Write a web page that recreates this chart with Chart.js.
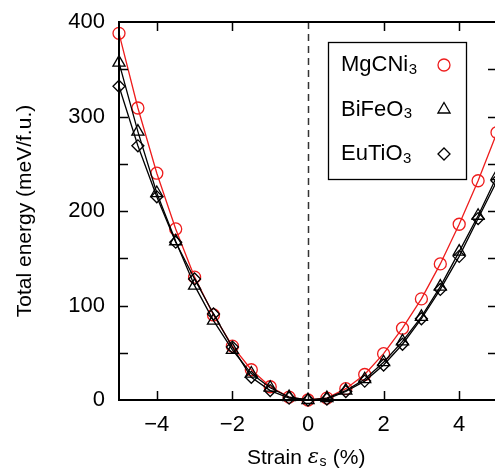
<!DOCTYPE html>
<html>
<head>
<meta charset="utf-8">
<script src="https://cdn.jsdelivr.net/npm/chart.js@4/dist/chart.umd.min.js"></script>
<style>
  html, body { margin: 0; padding: 0; overflow: hidden; background: #fff; }
</style>
</head>
<body>
<canvas id="energyChart" width="500" height="470"></canvas>
<script>
// strain values (%)
const strain = [-5, -4.5, -4, -3.5, -3, -2.5, -2, -1.5, -1, -0.5, 0, 0.5, 1, 1.5, 2, 2.5, 3, 3.5, 4, 4.5, 5];
// total energy (meV/f.u.)
const mgcni3 = [388, 309, 240, 181, 130, 90, 57, 32, 14, 3, 0, 2, 12, 27, 49, 76, 107, 144, 186, 232, 283];
const bifeo3 = [357, 284, 219, 168, 121, 84, 53, 28, 13, 3, 0, 2, 10, 22, 40, 62, 88, 120, 157, 195, 237];
const eutio3 = [332, 269, 215, 167, 128, 91, 56, 24, 10, 2, 0, 1, 9, 20, 37, 59, 86, 117, 152, 192, 232];
const xTicks = [-4, -2, 0, 2, 4];
const yTicks = [0, 100, 200, 300, 400];
const yMinor = [50, 150, 250, 350];

const RED = '#ee1c1c';
const FONT = '"Liberation Sans", Arial, sans-serif';

function pts(ys) {
    return strain.map((x, i) => ({ x: x, y: ys[i] }));
}

// text with a subscript part
function drawSub(ctx, main, sub, x, y, size) {
    ctx.font = size + 'px ' + FONT;
    ctx.fillText(main, x, y);
    const w = ctx.measureText(main).width;
    ctx.font = Math.round(size * 0.68) + 'px ' + FONT;
    ctx.fillText(sub, x + w + 0.5, y + size * 0.2);
}

const frame = {
    id: 'frame',
    beforeDatasetsDraw(chart) {
        const ctx = chart.ctx, a = chart.chartArea;
        const xs = chart.scales.x;
        ctx.save();
        ctx.strokeStyle = '#333';
        ctx.lineWidth = 1.5;
        ctx.setLineDash([7, 5]);
        const x0 = Math.round(xs.getPixelForValue(0)) + 0.5;
        ctx.beginPath();
        ctx.moveTo(x0, a.top);
        ctx.lineTo(x0, a.bottom);
        ctx.stroke();
        ctx.restore();
    },
    afterDraw(chart) {
        const ctx = chart.ctx, a = chart.chartArea;
        const xs = chart.scales.x, ys = chart.scales.y;
        ctx.save();
        ctx.strokeStyle = '#000';
        ctx.lineWidth = 2;
        ctx.strokeRect(a.left, a.top, a.right - a.left, a.bottom - a.top);

        // inward ticks
        ctx.lineWidth = 1.5;
        const tl = 9;
        ctx.beginPath();
        xTicks.forEach(v => {
            if (v === 0) return;
            const px = Math.round(xs.getPixelForValue(v)) + 0.5;
            ctx.moveTo(px, a.bottom); ctx.lineTo(px, a.bottom - tl);
            ctx.moveTo(px, a.top); ctx.lineTo(px, a.top + tl);
        });
        yTicks.concat(yMinor).forEach(v => {
            if (v === 0 || v === 400) return;
            const py = Math.round(ys.getPixelForValue(v)) + 0.5;
            ctx.moveTo(a.left, py); ctx.lineTo(a.left + tl, py);
            ctx.moveTo(a.right, py); ctx.lineTo(a.right - tl, py);
        });
        ctx.stroke();

        // axis titles
        ctx.fillStyle = '#000';
        ctx.textBaseline = 'middle';
        ctx.textAlign = 'center';
        ctx.font = '21px ' + FONT;
        ctx.save();
        ctx.translate(25, 211);
        ctx.rotate(-Math.PI / 2);
        ctx.fillText('Total energy (meV/f.u.)', 0, 0);
        ctx.restore();

        ctx.textAlign = 'left';
        let tx = 247;
        const ty = 458;
        ctx.font = '21px ' + FONT;
        ctx.fillText('Strain ', tx, ty);
        tx += ctx.measureText('Strain ').width;
        ctx.font = 'italic 21px "DejaVu Serif", serif';
        ctx.fillText('ε', tx, ty);
        tx += ctx.measureText('ε').width;
        ctx.font = '14px ' + FONT;
        ctx.fillText('s', tx + 0.5, ty + 4);
        tx += ctx.measureText('s').width + 1;
        ctx.font = '21px ' + FONT;
        ctx.fillText(' (%)', tx, ty);

        // legend box
        ctx.lineWidth = 1.3;
        ctx.strokeRect(328.5, 42.5, 138, 137);
        const rows = [
            ['MgCNi', RED, 'circle', 6],
            ['BiFeO', '#000', 'triangle', 7],
            ['EuTiO', '#000', 'rectRot', 6]
        ];
        rows.forEach((r, i) => {
            const cy = 65 + i * 44.5;
            ctx.fillStyle = '#000';
            ctx.textAlign = 'left';
            ctx.textBaseline = 'middle';
            drawSub(ctx, r[0], '3', 341, cy, 22);
            ctx.strokeStyle = r[1];
            ctx.fillStyle = 'rgba(0,0,0,0)';
            ctx.lineWidth = 1.3;
            Chart.helpers.drawPoint(ctx, { pointStyle: r[2], radius: r[3], rotation: 0, borderWidth: 1.3 }, 444, cy);
        });
        ctx.restore();
    }
};

function series(label, ys, color, style, r) {
    return {
        label: label,
        data: pts(ys),
        borderColor: color,
        borderWidth: 1.3,
        backgroundColor: 'rgba(0,0,0,0)',
        pointStyle: style,
        pointRadius: r,
        pointBorderWidth: 1.3,
        pointBorderColor: color,
        pointBackgroundColor: 'rgba(0,0,0,0)',
        tension: 0,
        clip: false
    };
}

new Chart(document.getElementById('energyChart'), {
    type: 'line',
    data: {
        datasets: [
            series('EuTiO3', eutio3, '#000', 'rectRot', 6),
            series('BiFeO3', bifeo3, '#000', 'triangle', 7),
            series('MgCNi3', mgcni3, RED, 'circle', 6)
        ]
    },
    options: {
        responsive: false,
        animation: false,
        layout: { autoPadding: false, padding: { top: 22, right: 3, left: 0, bottom: 0 } },
        plugins: { legend: { display: false }, tooltip: { enabled: false } },
        scales: {
            x: {
                type: 'linear',
                min: -5,
                max: 5,
                // unlabelled end ticks at -5 and 5 keep the axis at full width
                afterBuildTicks: s => { s.ticks = [-5].concat(xTicks, [5]).map(v => ({ value: v })); },
                afterFit: s => { s.height = 70; s.paddingLeft = 0; s.paddingRight = 0; },
                grid: { display: false, drawTicks: false },
                border: { display: false },
                ticks: {
                    color: '#000',
                    padding: 12,
                    font: { family: FONT, size: 22 },
                    callback: v => xTicks.includes(v) ? String(v).replace('-', '\u2212') : ''
                }
            },
            y: {
                min: 0,
                max: 400,
                afterBuildTicks: s => { s.ticks = yTicks.map(v => ({ value: v })); },
                afterFit: s => { s.width = 119; s.paddingTop = 0; s.paddingBottom = 0; },
                grid: { display: false, drawTicks: false },
                border: { display: false },
                ticks: {
                    color: '#000',
                    padding: 14,
                    font: { family: FONT, size: 22 }
                }
            }
        }
    },
    plugins: [frame]
});
</script>
</body>
</html>
